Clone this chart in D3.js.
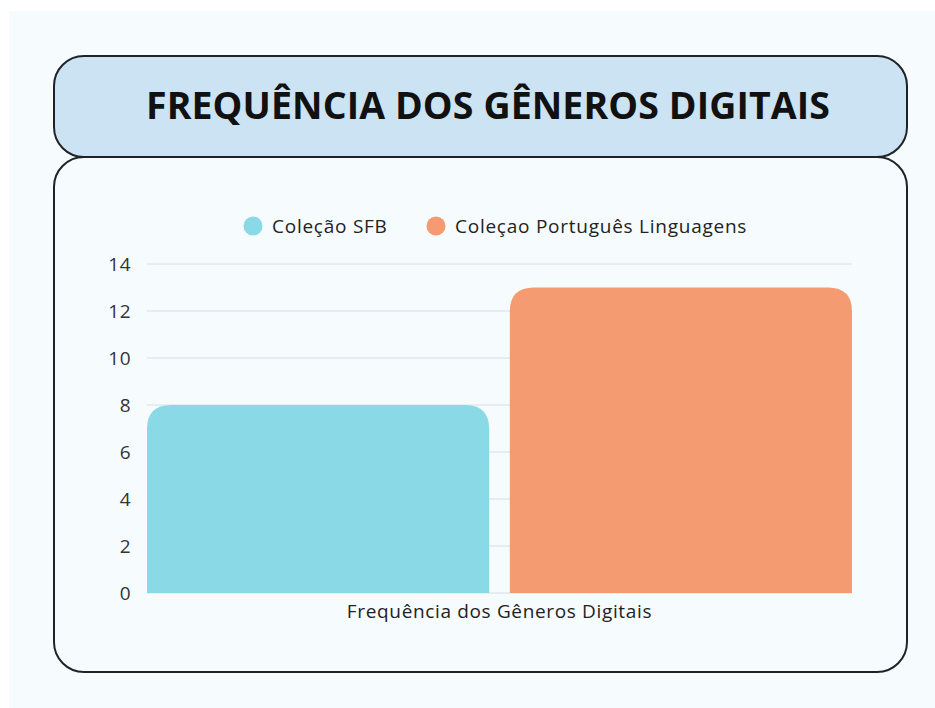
<!DOCTYPE html>
<html>
<head>
<meta charset="utf-8">
<script src="https://cdn.jsdelivr.net/npm/d3@7"></script>
<style>
  body { margin: 0; background: #ffffff; }
  svg { display: block; }
</style>
</head>
<body>
<div id="chart"></div>
<script>
// data
const categories = ["Frequência dos Gêneros Digitais"];
const seriesNames = ["Coleção SFB", "Coleçao Português Linguagens"];
const seriesValues = [8, 13];
const seriesColors = ["#89dae6", "#f59b71"];
const yTicks = [0, 2, 4, 6, 8, 10, 12, 14];
const title = "FREQUÊNCIA DOS GÊNEROS DIGITAIS";

const width = 935, height = 708;
const font = "'Open Sans', 'Noto Sans', sans-serif";

const svg = d3.select("#chart").append("svg")
  .attr("width", width)
  .attr("height", height);

// page background
svg.append("rect")
  .attr("x", 9).attr("y", 11)
  .attr("width", width - 9).attr("height", height - 11)
  .attr("fill", "#f6fbfe");

// content box (drawn first so header sits over it)
svg.append("rect")
  .attr("x", 54).attr("y", 157)
  .attr("width", 853).attr("height", 515)
  .attr("rx", 30)
  .attr("fill", "#f6fbfe")
  .attr("stroke", "#1f2328")
  .attr("stroke-width", 2);

// header box
svg.append("rect")
  .attr("x", 54).attr("y", 56)
  .attr("width", 853).attr("height", 101)
  .attr("rx", 30)
  .attr("fill", "#cce3f4")
  .attr("stroke", "#1f2328")
  .attr("stroke-width", 2);

svg.append("text")
  .attr("x", 488).attr("y", 119)
  .attr("text-anchor", "middle")
  .style("font-family", font)
  .style("font-weight", 700)
  .style("font-size", "37.5px")
  .style("letter-spacing", "0.1px")
  .attr("fill", "#111")
  .text(title);

// chart area
const margin = { left: 147, right: 852, top: 264, bottom: 593 };

const x0 = d3.scaleBand()
  .domain(categories)
  .range([margin.left, margin.right])
  .padding(0);

const x1 = d3.scaleBand()
  .domain(seriesNames)
  .range([0, x0.bandwidth()])
  .paddingInner(0.057);

const y = d3.scaleLinear()
  .domain([0, 14])
  .range([margin.bottom, margin.top]);

const color = d3.scaleOrdinal().domain(seriesNames).range(seriesColors);

// gridlines
svg.append("g")
  .selectAll("line")
  .data(yTicks)
  .join("line")
  .attr("x1", margin.left)
  .attr("x2", margin.right)
  .attr("y1", d => y(d))
  .attr("y2", d => y(d))
  .attr("stroke", "#d8dee3")
  .attr("stroke-width", 1);

// y axis labels
const yAxis = d3.axisLeft(y).tickValues(yTicks).tickSize(0).tickPadding(0);
const gy = svg.append("g")
  .attr("transform", `translate(${margin.left - 16},0)`)
  .call(yAxis);
gy.select(".domain").remove();
gy.selectAll("text")
  .style("font-family", font)
  .style("font-size", "19px")
  .style("letter-spacing", "0.5px")
  .attr("fill", "#333");

// bars with rounded top corners
const rTop = 24;
function barPath(x, w, yTop, yBase) {
  const r = Math.min(rTop, w / 2, yBase - yTop);
  return `M${x},${yBase}V${yTop + r}Q${x},${yTop} ${x + r},${yTop}` +
    `H${x + w - r}Q${x + w},${yTop} ${x + w},${yTop + r}V${yBase}Z`;
}

const barData = seriesNames.map((s, i) => ({ cat: categories[0], key: s, value: seriesValues[i] }));

svg.append("g")
  .selectAll("path")
  .data(barData)
  .join("path")
  .attr("d", d => barPath(x0(d.cat) + x1(d.key), x1.bandwidth(), y(d.value), y(0)))
  .attr("fill", d => color(d.key));

// x axis label
const xAxis = d3.axisBottom(x0).tickSize(0).tickPadding(0);
const gx = svg.append("g")
  .attr("transform", `translate(0,${margin.bottom + 11})`)
  .call(xAxis);
gx.select(".domain").remove();
gx.selectAll("text")
  .attr("dy", "0.71em")
  .style("font-family", font)
  .style("font-size", "19px")
  .style("letter-spacing", "0.65px")
  .attr("fill", "#222");

// legend
const legendPos = [253, 436];
const legend = svg.append("g")
  .selectAll("g")
  .data(seriesNames)
  .join("g")
  .attr("transform", (d, i) => `translate(${legendPos[i]},226)`);

legend.append("circle")
  .attr("r", 9.5)
  .attr("fill", d => color(d));

legend.append("text")
  .attr("x", 19)
  .attr("dy", "0.35em")
  .style("font-family", font)
  .style("font-size", "19px")
  .style("letter-spacing", "0.75px")
  .attr("fill", "#222")
  .text(d => d);
</script>
</body>
</html>
